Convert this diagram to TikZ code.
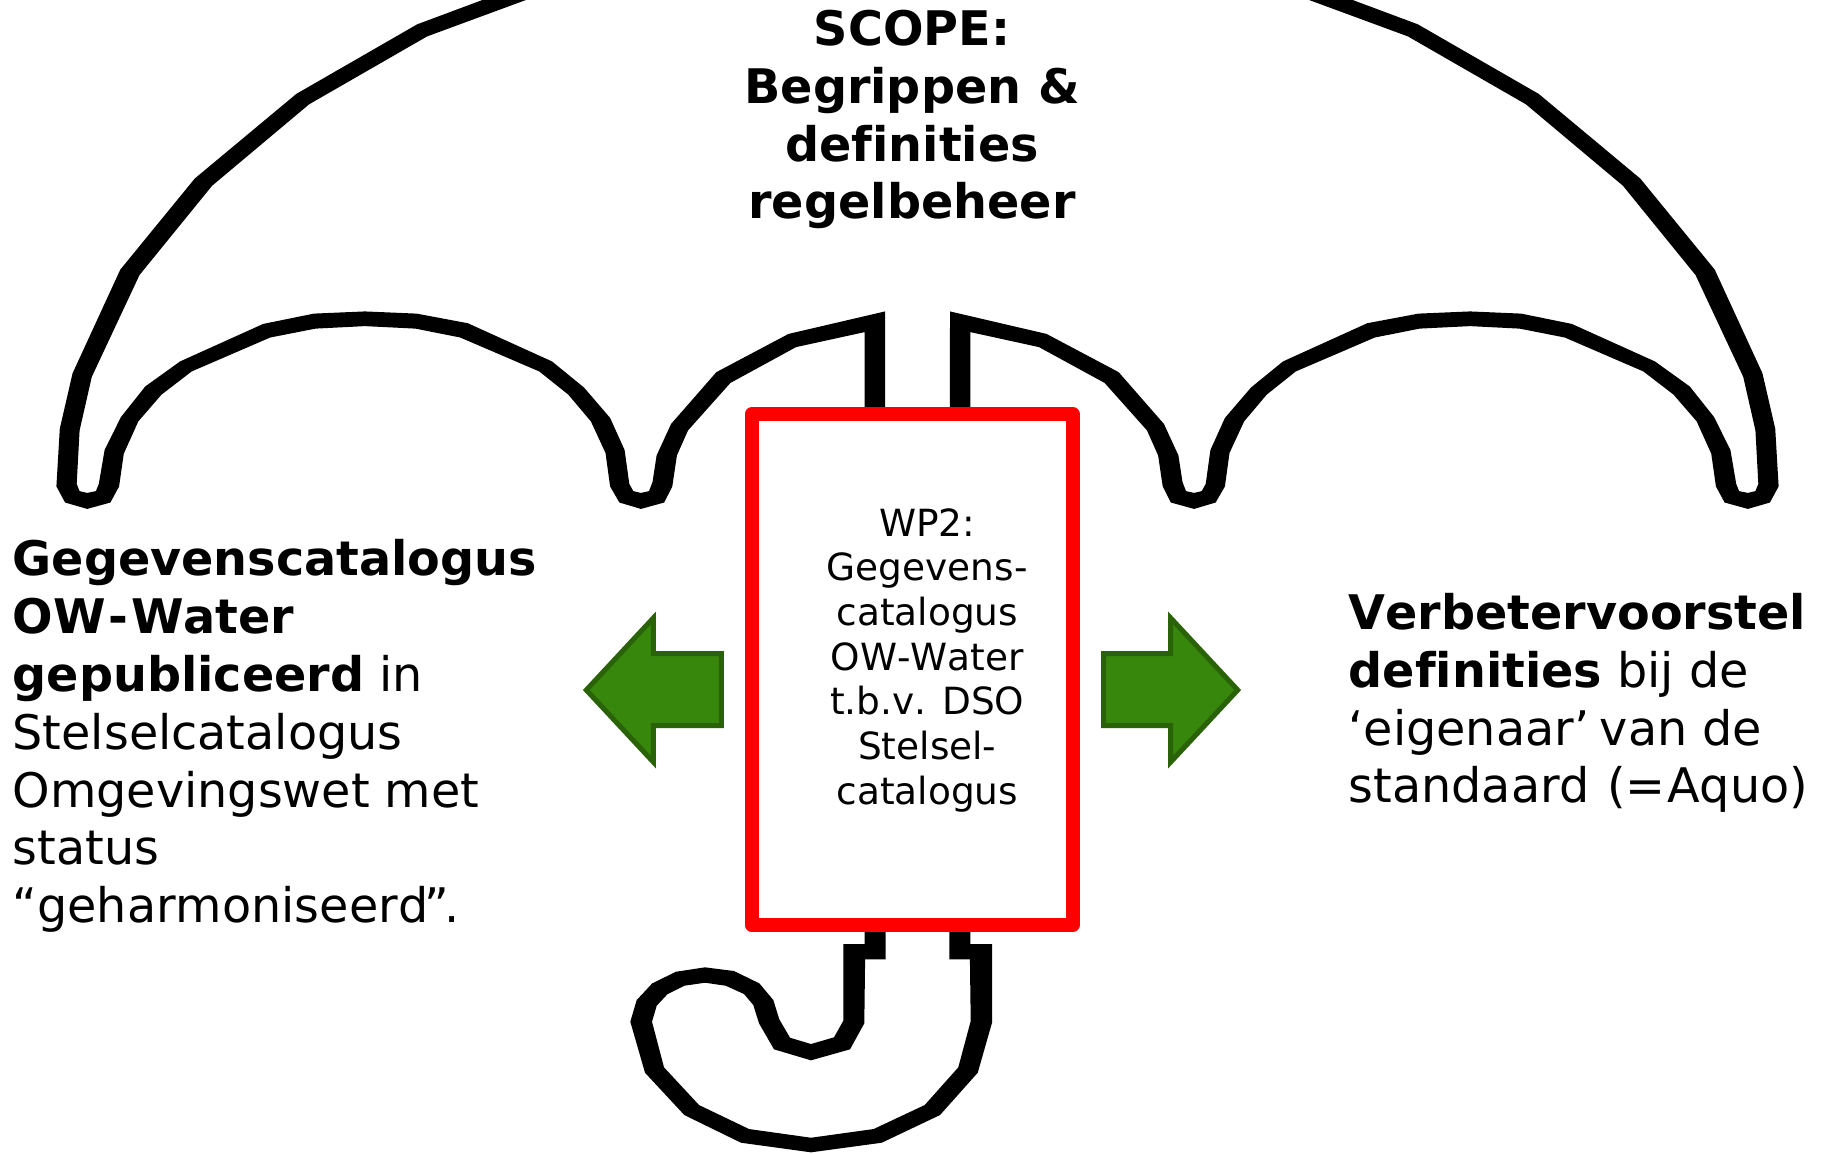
\documentclass[tikz,border=0pt]{standalone}
\usepackage{fontspec}
\setmainfont[Kerning=Off,Ligatures=NoCommon]{DejaVu Sans}
\definecolor{arrowfill}{HTML}{38870D}
\definecolor{arrowline}{HTML}{2A6208}
\tikzset{
	bigtext/.style={font=\fontsize{13.55}{16.45}\selectfont, inner sep=0pt},
	smalltext/.style={font=\fontsize{10.65}{12.7}\selectfont, inner sep=0pt, align=center},
	greenarrow/.style={fill=arrowfill, draw=arrowline, line width=0.05cm, miter limit=20}
}

\begin{document}
\begin{tikzpicture}[x=0.01cm,y=-0.01cm]
\useasboundingbox (0,0) rectangle (1822,1153);

% left half of the umbrella, the right half is the same thing mirrored
\foreach \s/\d in {1/0,-1/-1835}{
	\begin{scope}[xscale=\s,shift={(\d,0)}]
	\fill[black] (482.3,0) -- (417.2,24.3) -- (296.3,93.9) -- (194.7,178.6) -- (120.3,269.6)
		-- (72.6,373.2) -- (59.8,428.6) -- (56.4,486.4) -- (65.1,502.5) -- (87.2,508.9)
		-- (110.4,502.5) -- (119.1,486.4) -- (123.8,453.6) -- (138.3,421.4) -- (161.5,394.6)
		-- (191.7,371.4) -- (270.2,337.5) -- (315.5,328.6) -- (364.9,326.1) -- (415.5,328.6)
		-- (460.2,337.5) -- (539.2,371.4) -- (568.3,394.6) -- (590.9,421.4) -- (605.5,452.9)
		-- (610.1,486.4) -- (619.4,502.5) -- (640.9,508.9) -- (664.2,502.5) -- (672.3,486.4)
		-- (676.9,455.4) -- (688,430.4) -- (730.4,382.9) -- (796,347.1) -- (864.6,332.1)
		-- (864.6,959.3) -- (885.7,959.3) -- (885,311.4) -- (788.5,333.9) -- (716.4,372.1)
		-- (671.1,423.9) -- (656.6,455.4) -- (652.5,482.1) -- (649,491.1) -- (640.9,492.9)
		-- (633.3,491.1) -- (629.3,483.9) -- (624.6,450) -- (610.1,417.9) -- (584,387.5)
		-- (552,361.4) -- (467.8,323.2) -- (416.6,313.6) -- (364.9,311.4) -- (313.8,313.6)
		-- (263.2,323.9) -- (180.1,361.4) -- (145.3,386.4) -- (120.9,417.1) -- (104.6,450)
		-- (98.8,483.9) -- (95.9,491.1) -- (87.2,492.9) -- (79.6,491.1) -- (76.7,483.9)
		-- (79.6,430.4) -- (91.8,376.8) -- (139.5,275) -- (212.1,185.7) -- (309.1,104.3)
		-- (427.1,36.4) -- (525.9,0) -- cycle;
	\end{scope}
}

% handle, thinner where it runs sideways so filled and not stroked
\fill[black] (843.3,944) -- (843.3,1020.7) -- (834,1037.3) -- (811,1044) -- (790,1037.7)
	-- (779.3,1019.3) -- (773.3,1000) -- (759.3,983.3) -- (734,971) -- (705,967.3)
	-- (676,971.7) -- (652.3,983.3) -- (636.7,1000) -- (630.3,1021.7) -- (645,1072.7)
	-- (684.3,1115) -- (741,1142.7) -- (811,1152.3) -- (881.7,1142.7) -- (940,1115)
	-- (977.7,1072.7) -- (992,1022.7) -- (992,944) -- (969.7,944) -- (970.7,1021)
	-- (958.3,1067.3) -- (924.7,1105) -- (873.7,1129) -- (811,1137.7) -- (749,1129)
	-- (699,1105) -- (664,1067.3) -- (652,1021.7) -- (656.7,1005.7) -- (667.3,994.3)
	-- (684.3,985.7) -- (705,982.7) -- (725.7,985.7) -- (744,994) -- (753.3,1005)
	-- (759,1023.3) -- (774,1049.3) -- (811,1060.3) -- (850,1049.3) -- (864.3,1023.3)
	-- (865.3,944) -- cycle;

\node[draw=red, fill=white, line width=0.14cm, line join=round, minimum width=3.205cm,
	minimum height=5.108cm, inner sep=0pt] (wpbox) at (912.25,669.6) {};

\node[smalltext] (wptext) at (927.3,660) {WP2:\\Gegevens-\\catalogus\\OW-Water\\t.b.v. DSO\\Stelsel-\\catalogus};

\draw[greenarrow] (586.3,690) -- (653.3,618) -- (653.3,653.5) -- (721.3,653.5)
	-- (721.3,725.5) -- (653.3,725.5) -- (653.3,762) -- cycle;
\draw[greenarrow] (1237.7,690) -- (1170.7,618) -- (1170.7,653.5) -- (1103.7,653.5)
	-- (1103.7,725.5) -- (1170.7,725.5) -- (1170.7,762) -- cycle;

\node[bigtext, align=center] (scope) at (912,119.6) {\textbf{SCOPE:}\\\textbf{Begrippen \&}\\\textbf{definities}\\\textbf{regelbeheer}};

\node[bigtext, align=left, anchor=west] (gepubliceerd) at (12,736) {\textbf{Gegevenscatalogus}\\\textbf{OW\kern0.8pt-\kern0.8ptWater}\\\textbf{gepubliceerd} in\\Stelselcatalogus\\Omgevingswet met\\status\\“geharmoniseerd\kern-1pt”\kern-1.3pt.};

\node[bigtext, align=left, anchor=west] (voorstel) at (1348,703) {\textbf{Verbetervoorstel}\\\textbf{definities} bij de\\‘eigenaar’\kern-1.3pt{} van de\\standaard \kern0.5pt(=\kern0.5ptAquo)};

\end{tikzpicture}
\end{document}
